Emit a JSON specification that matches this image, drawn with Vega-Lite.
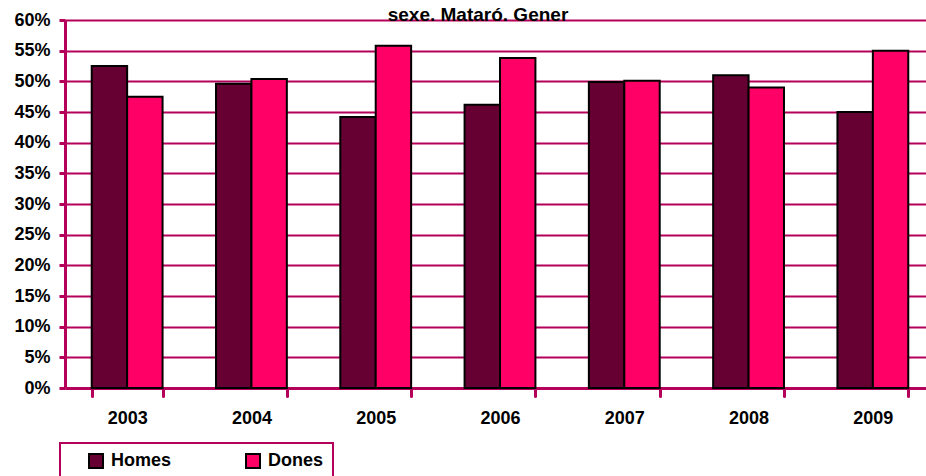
{
  "$schema": "https://vega.github.io/schema/vega-lite/v6.json",
  "autosize": "none",
  "width": 870,
  "height": 368,
  "padding": {"left": 65, "top": 20, "right": 0, "bottom": 88},
  "background": "white",
  "title": {"text": "sexe. Mataró. Gener", "font": "Liberation Sans", "fontSize": 19, "fontWeight": "bold", "color": "black", "anchor": "middle", "baseline": "bottom", "offset": 4, "dx": -22, "dy": 37},
  "config": {
    "view": {"stroke": null},
    "font": "Liberation Sans"
  },
  "data": {"values": [
    {"year": "2003", "sexe": "Homes", "v": 0.525},
    {"year": "2003", "sexe": "Dones", "v": 0.475},
    {"year": "2004", "sexe": "Homes", "v": 0.496},
    {"year": "2004", "sexe": "Dones", "v": 0.504},
    {"year": "2005", "sexe": "Homes", "v": 0.442},
    {"year": "2005", "sexe": "Dones", "v": 0.558},
    {"year": "2006", "sexe": "Homes", "v": 0.462},
    {"year": "2006", "sexe": "Dones", "v": 0.538},
    {"year": "2007", "sexe": "Homes", "v": 0.499},
    {"year": "2007", "sexe": "Dones", "v": 0.501},
    {"year": "2008", "sexe": "Homes", "v": 0.510},
    {"year": "2008", "sexe": "Dones", "v": 0.490},
    {"year": "2009", "sexe": "Homes", "v": 0.450},
    {"year": "2009", "sexe": "Dones", "v": 0.550}
  ]},
  "mark": {"type": "bar", "stroke": "black", "strokeWidth": 2},
  "encoding": {
    "x": {"field": "year", "type": "nominal", "title": null,
      "scale": {"paddingInner": 0.43, "paddingOuter": 0.215},
      "axis": {"labelAngle": 0, "labelFont": "Liberation Sans", "labelFontSize": 18, "labelFontWeight": "bold", "labelColor": "black", "labelPadding": 13,
        "domainColor": "#b5005b", "domainWidth": 3, "tickColor": "#b5005b", "tickWidth": 3, "tickSize": 8, "tickBand": "extent", "tickCap": "round", "grid": false}},
    "xOffset": {"field": "sexe", "type": "nominal", "sort": ["Homes", "Dones"]},
    "y": {"field": "v", "type": "quantitative", "title": null,
      "scale": {"domain": [0, 0.6]},
      "axis": {"values": [0, 0.05, 0.1, 0.15, 0.2, 0.25, 0.3, 0.35, 0.4, 0.45, 0.5, 0.55, 0.6], "format": ".0%", "labelFont": "Liberation Sans", "labelFontSize": 18, "labelFontWeight": "bold", "labelColor": "black", "labelPadding": 9,
        "domainColor": "#b5005b", "domainWidth": 3, "tickColor": "#b5005b", "tickWidth": 3, "tickSize": 6, "gridColor": "#b5005b", "gridWidth": 2, "grid": true}},
    "color": {"field": "sexe", "type": "nominal", "sort": ["Homes", "Dones"],
      "scale": {"domain": ["Homes", "Dones"], "range": ["#660033", "#ff0066"]},
      "legend": {"title": null, "orient": "none", "legendX": -5, "legendY": 423, "direction": "horizontal",
        "symbolType": "square", "symbolSize": 196, "symbolStrokeColor": "black", "symbolStrokeWidth": 2, "symbolOpacity": 1,
        "labelFont": "Liberation Sans", "labelFontSize": 18, "labelFontWeight": "bold", "labelColor": "black", "labelOffset": 6,
        "columnPadding": 54, "padding": 9, "symbolOffset": 18, "strokeColor": "#b5005b",
        "encode": {"legend": {"update": {"strokeWidth": {"value": 2}}}}}}
  }
}
